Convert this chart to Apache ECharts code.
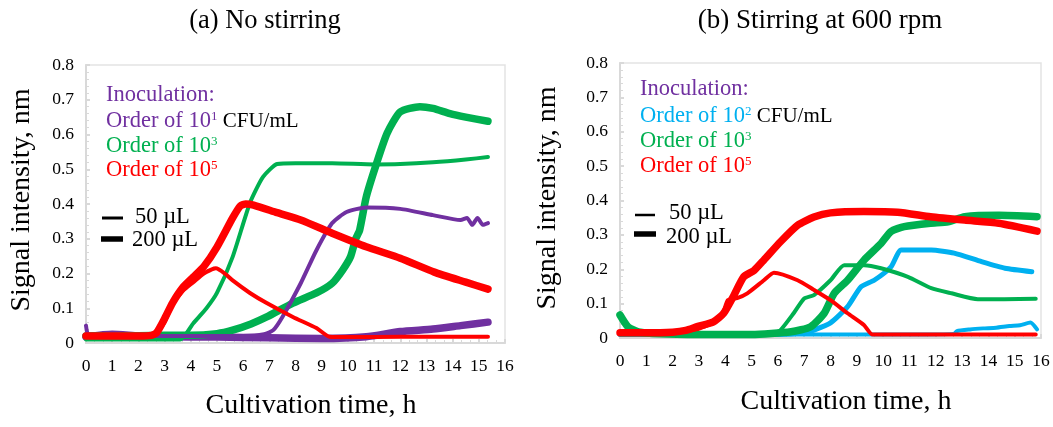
<!DOCTYPE html>
<html><head><meta charset="utf-8">
<script src="https://cdn.jsdelivr.net/npm/echarts@6/dist/echarts.min.js"></script>
<style>html,body{margin:0;padding:0;background:#fff}#c{width:1053px;height:427px}</style>
</head><body><div id="c"></div>
<script>
// ---------- data ----------
const xTicks = [0,1,2,3,4,5,6,7,8,9,10,11,12,13,14,15,16];
const yTicks = [0,0.1,0.2,0.3,0.4,0.5,0.6,0.7,0.8];
const titles = ['(a) No stirring', '(b) Stirring at 600 rpm'];

// (a) No stirring  [time h, signal nm]
const a_red200 = [[0,0.02],[1,0.02],[2,0.02],[2.5,0.022],[2.7,0.03],[3.0,0.07],[3.3,0.115],[3.7,0.16],[4.1,0.19],[4.5,0.22],[5.0,0.276],[5.6,0.36],[5.9,0.395],[6.1,0.40],[6.4,0.397],[7.3,0.375],[8.2,0.354],[9.4,0.316],[10.7,0.277],[12.0,0.244],[13.3,0.204],[14.5,0.175],[15.35,0.155]];
const a_red50 = [[0,0.018],[1,0.02],[2,0.02],[2.6,0.022],[3.0,0.06],[3.3,0.11],[3.7,0.15],[4.1,0.175],[4.5,0.2],[4.96,0.215],[5.3,0.2],[5.6,0.18],[6.26,0.144],[6.9,0.115],[7.9,0.075],[8.8,0.043],[9.3,0.018],[10,0.017],[12,0.018],[14,0.018],[15.35,0.018]];
const a_green200 = [[0,0.02],[1,0.021],[2,0.021],[3,0.022],[4,0.022],[5,0.027],[5.6,0.037],[6.3,0.055],[6.9,0.075],[7.9,0.115],[8.8,0.144],[9.4,0.172],[9.8,0.21],[10.1,0.248],[10.3,0.3],[10.45,0.325],[10.7,0.42],[11.1,0.518],[11.5,0.604],[12.0,0.665],[12.75,0.68],[13.25,0.675],[13.9,0.66],[14.5,0.65],[15.35,0.638]];
const a_green50 = [[0,0.01],[1,0.01],[2,0.01],[3,0.01],[3.6,0.01],[4.1,0.057],[4.6,0.1],[5.0,0.144],[5.6,0.248],[6.26,0.403],[6.76,0.478],[7.3,0.515],[8,0.517],[9.4,0.517],[11,0.514],[12,0.515],[13.25,0.52],[14.5,0.528],[15.35,0.535]];
const a_purple50 = [[0,0.05],[0.1,0.022],[1,0.025],[2,0.02],[3,0.02],[4,0.02],[5,0.02],[6,0.02],[6.8,0.025],[7.15,0.037],[7.5,0.075],[8.2,0.172],[8.8,0.267],[9.4,0.345],[9.95,0.377],[10.7,0.39],[12.0,0.386],[13.25,0.368],[14.3,0.354],[14.55,0.36],[14.75,0.34],[14.95,0.36],[15.15,0.34],[15.35,0.345]];
const a_purple200 = [[0,0.018],[1,0.025],[2,0.02],[3,0.018],[5,0.017],[7,0.015],[9,0.013],[10.7,0.018],[12.0,0.033],[13.25,0.04],[14.3,0.05],[15.35,0.06]];

// (b) Stirring at 600 rpm
const b_red200 = [[0,0.015],[1,0.015],[2,0.017],[2.5,0.022],[2.93,0.033],[3.55,0.047],[3.94,0.072],[4.3,0.12],[4.7,0.178],[5.1,0.197],[5.47,0.227],[6.1,0.28],[6.75,0.328],[7.37,0.352],[8.0,0.364],[9.27,0.368],[10.55,0.366],[11.8,0.353],[13.1,0.343],[14.4,0.334],[15.85,0.311]];
const b_red50 = [[0,0.015],[1,0.015],[2,0.016],[2.9,0.025],[3.55,0.045],[3.9,0.07],[4.1,0.11],[4.45,0.116],[4.84,0.13],[5.47,0.168],[5.85,0.19],[6.75,0.168],[7.37,0.14],[8.0,0.11],[8.65,0.072],[9.27,0.038],[9.6,0.01],[11,0.01],[13,0.01],[15.8,0.01]];
const b_green200 = [[0,0.067],[0.3,0.033],[0.7,0.018],[1.5,0.012],[3,0.01],[5,0.01],[6.5,0.018],[7.25,0.033],[7.76,0.072],[8.14,0.13],[8.65,0.168],[9.28,0.227],[9.92,0.275],[10.3,0.31],[10.8,0.324],[11.8,0.334],[12.47,0.338],[13.1,0.353],[14.4,0.357],[15.85,0.353]];
const b_green50 = [[0,0.01],[2,0.01],[4,0.01],[5.8,0.012],[6.1,0.023],[6.6,0.072],[7.0,0.115],[7.37,0.125],[8.0,0.168],[8.52,0.212],[9.28,0.212],[9.92,0.203],[10.94,0.178],[11.83,0.145],[12.6,0.13],[13.6,0.113],[14.6,0.113],[15.8,0.114]];
const b_cyan200 = [[0,0.01],[3,0.01],[6,0.01],[7,0.015],[7.37,0.023],[8.0,0.044],[8.65,0.091],[9.16,0.149],[9.66,0.168],[10.3,0.207],[10.69,0.256],[11.83,0.256],[12.7,0.247],[13.74,0.222],[14.63,0.203],[15.65,0.193]];
const b_cyan50 = [[0,0.01],[3,0.01],[6,0.01],[9,0.01],[11,0.01],[12.7,0.012],[12.8,0.02],[13.3,0.025],[13.8,0.028],[14.3,0.03],[14.8,0.035],[15.2,0.037],[15.6,0.045],[15.85,0.025]];

// ---------- chart ----------
const PURPLE='#7030A0', GREEN='#00B050', RED='#FF0000', CYAN='#00B0F0';
const FONT='"Liberation Serif","Times New Roman",serif';
const chart = echarts.init(document.getElementById('c'));

const grids = [
  {left:86, top:65, width:419, height:278},
  {left:620, top:63, width:421, height:275}
];
function xAx(i){return {type:'value',gridIndex:i,min:xTicks[0],max:xTicks[xTicks.length-1],interval:1,
  axisLine:{show:true,lineStyle:{color:'#d9d9d9',width:2}},
  axisTick:{show:true,lineStyle:{color:'#d9d9d9',width:2},length:4,inside:true},
  minorTick:{show:true,splitNumber:3,length:3,lineStyle:{color:'#d9d9d9'}},
  splitLine:{show:false},
  axisLabel:{color:'#000',fontFamily:FONT,fontSize:17.5,margin:14}};}
function yAx(i){return {type:'value',gridIndex:i,min:yTicks[0],max:yTicks[yTicks.length-1],interval:0.1,
  axisLine:{show:true,lineStyle:{color:'#d9d9d9',width:2}},
  axisTick:{show:true,lineStyle:{color:'#d9d9d9',width:2},length:4,inside:true},
  minorTick:{show:true,splitNumber:5,length:3,lineStyle:{color:'#d9d9d9'}},
  splitLine:{show:false},
  axisLabel:{color:'#000',fontFamily:FONT,fontSize:17.5,margin:12,formatter:v=>String(Math.round(v*10)/10)}};}

function ser(i,data,color,w,z){return {type:'line',xAxisIndex:i,yAxisIndex:i,data:data,showSymbol:false,smooth:0.2,
  lineStyle:{color:color,width:w,cap:'round',join:'round'},itemStyle:{color:color},z:z||2,silent:true,animation:false};}

const THIN=4, THICK=7.5;
const series = [
  ser(0,a_purple200,PURPLE,THICK,2), ser(0,a_green50,GREEN,THIN,3), ser(0,a_green200,GREEN,THICK,3),
  ser(0,a_purple50,PURPLE,THIN,4), ser(0,a_red50,RED,THIN,5), ser(0,a_red200,RED,THICK,5),
  ser(1,b_cyan50,CYAN,THIN,2), ser(1,b_cyan200,CYAN,5,2), ser(1,b_green50,GREEN,THIN,3),
  ser(1,b_green200,GREEN,THICK,3), ser(1,b_red50,RED,THIN,5), ser(1,b_red200,RED,THICK,5)
];

const rich = {
  p:{fill:PURPLE,color:PURPLE,fontFamily:FONT,fontSize:22.5},
  g:{fill:GREEN,color:GREEN,fontFamily:FONT,fontSize:22.5},
  r:{fill:RED,color:RED,fontFamily:FONT,fontSize:22.5},
  c:{fill:CYAN,color:CYAN,fontFamily:FONT,fontSize:22.5},
  k:{fill:'#000',color:'#000',fontFamily:FONT,fontSize:21},
  ps:{fill:PURPLE,color:PURPLE,fontFamily:FONT,fontSize:13,padding:[0,0,9,0]},
  gs:{fill:GREEN,color:GREEN,fontFamily:FONT,fontSize:13,padding:[0,0,9,0]},
  rs:{fill:RED,color:RED,fontFamily:FONT,fontSize:13,padding:[0,0,9,0]},
  cs:{fill:CYAN,color:CYAN,fontFamily:FONT,fontSize:13,padding:[0,0,9,0]}
};
function rt(x,y,text){return {type:'text',x:x,y:y,style:{text:text,rich:rich,fontFamily:FONT,fontSize:22,textVerticalAlign:'middle'}};}
function ln(x1,x2,y,w){return {type:'line',shape:{x1:x1,y1:y,x2:x2,y2:y},style:{stroke:'#000',lineWidth:w}};}
function tx(x,y,text,size,extra){return {type:'text',x:x,y:y,rotation:(extra&&extra.rot)||0,style:{text:text,fontFamily:FONT,fontSize:size,fill:'#000',textAlign:(extra&&extra.align)||'left',textVerticalAlign:'middle'}};}

const graphic = [
  tx(265,21,titles[0],26.5,{align:'center'}),
  tx(820,21,titles[1],27,{align:'center'}),
  tx(22,200,'Signal intensity, nm',28,{align:'center',rot:Math.PI/2}),
  tx(548,198,'Signal intensity, nm',28,{align:'center',rot:Math.PI/2}),
  tx(311,406,'Cultivation time, h',28,{align:'center'}),
  tx(846,402,'Cultivation time, h',28,{align:'center'}),
  // legend (a)
  rt(106,95,'{p|Inoculation:}'),
  rt(106,121,'{p|Order of 10}{ps|1}{k| CFU/mL}'),
  rt(106,146,'{g|Order of 10}{gs|3}'),
  rt(106,170,'{r|Order of 10}{rs|5}'),
  ln(102,123,218,3), ln(101,123,239,5.5),
  tx(135,217,'50 µL',22.5),
  tx(132,240,'200 µL',22.5),
  // legend (b)
  rt(640,89,'{p|Inoculation:}'),
  rt(640,116,'{c|Order of 10}{cs|2}{k| CFU/mL}'),
  rt(640,141,'{g|Order of 10}{gs|3}'),
  rt(640,166,'{r|Order of 10}{rs|5}'),
  ln(635,655,215,2.5), ln(634,656,234,5.5),
  tx(669,213,'50 µL',22.5),
  tx(666,237,'200 µL',22.5)
];

chart.setOption({
  animation:false,
  backgroundColor:'#fff',
  grid:grids.map(g=>Object.assign({show:true,borderColor:'#e3e3e3',borderWidth:1.5},g)),
  xAxis:[xAx(0),xAx(1)],
  yAxis:[yAx(0),yAx(1)],
  series:series,
  graphic:graphic
});
</script></body></html>
